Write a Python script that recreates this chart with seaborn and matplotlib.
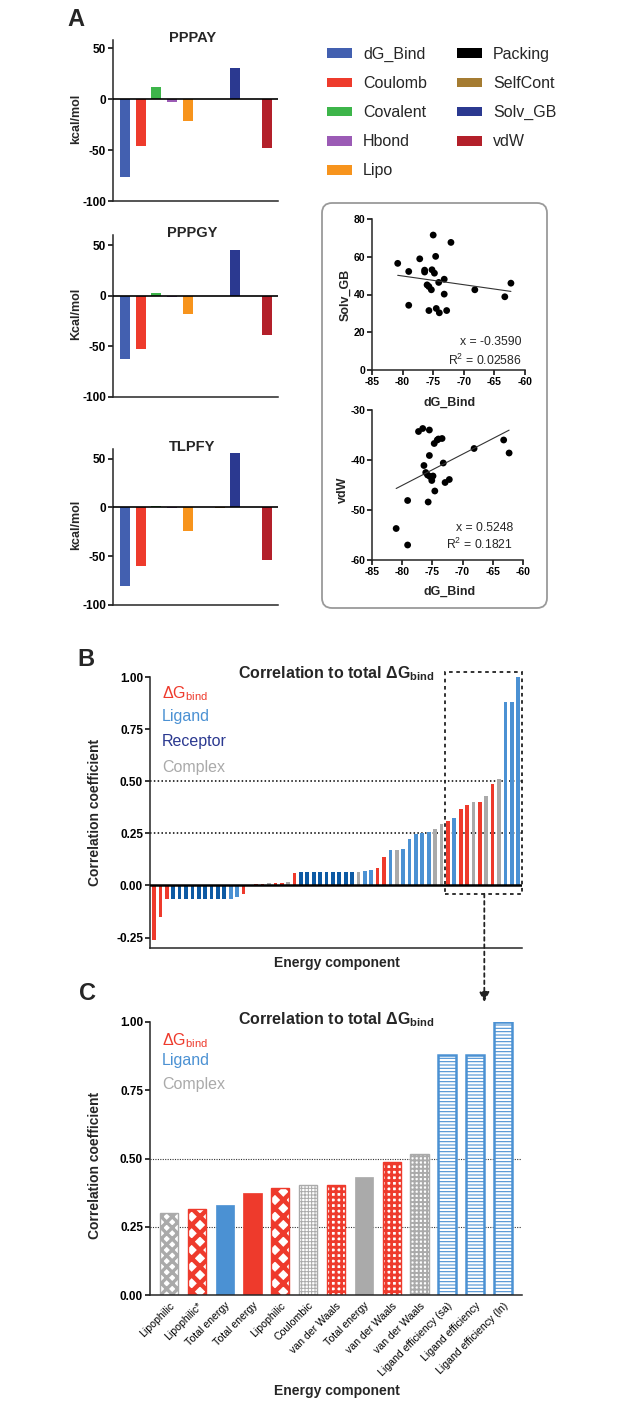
import numpy as np
import pandas as pd
import matplotlib
matplotlib.use("Agg")
import matplotlib.pyplot as plt
import seaborn as sns
from matplotlib.patches import Patch, Rectangle, FancyBboxPatch

sns.set_theme(style="ticks")
plt.rcParams['font.family'] = ['Liberation Sans', 'DejaVu Sans']
plt.rcParams['mathtext.fontset'] = 'custom'
plt.rcParams['mathtext.rm'] = 'Liberation Sans'
plt.rcParams['mathtext.bf'] = 'Liberation Sans:bold'
plt.rcParams['mathtext.it'] = 'Liberation Sans:italic'
plt.rcParams['axes.linewidth'] = 1.1
plt.rcParams['axes.unicode_minus'] = False
plt.rcParams['hatch.linewidth'] = 1.0

# ---------------- data ----------------
energy_terms = ["dG_Bind", "Coulomb", "Covalent", "Hbond", "Lipo",
                "Packing", "SelfCont", "Solv_GB", "vdW"]
term_colors = ["#4360B0", "#EE3B2C", "#3DB54A", "#9B5BB5", "#F7941D",
               "#000000", "#A57C32", "#2B3990", "#B3202A"]
slot_order = ["dG_Bind", "Coulomb", "Covalent", "Hbond", "Lipo",
              "Packing", "SelfCont", "Solv_GB", " ", "vdW"]
peptides = ["PPPAY", "PPPGY", "TLPFY"]
ylabels_a = ["kcal/mol", "Kcal/mol", "kcal/mol"]
pppay = [-76, -46, 12, -3, -21, 0, 0, 31, -48]
pppgy = [-62, -53, 3, -1.5, -18, 0, 0, 45, -39]
tlpfy = [-81, -60, 1.5, -0.5, -24, 0, -0.5, 56, -54]

dg_bind_s1 = [-80.8, -79.0, -79.0, -77.2, -76.4, -76.4, -76.0, -75.7, -75.3, -75.2,
              -75.0, -74.8, -74.6, -75.7, -74.5, -74.1, -74.0, -73.2, -73.2, -72.8,
              -72.1, -68.2, -63.3, -62.3]
solv_gb = [56.5, 52.2, 34.3, 58.9, 52.9, 51.9, 45.1, 44.2, 42.5, 53.1,
           71.5, 51.3, 60.2, 31.5, 32.6, 46.4, 30.3, 48.1, 40.2, 31.5,
           67.6, 42.5, 38.8, 46.0]
dg_bind_s2 = [-81.0, -79.1, -79.1, -77.3, -76.6, -76.4, -76.1, -75.8, -75.7, -75.5,
              -75.5, -75.4, -75.1, -74.9, -74.7, -74.6, -74.2, -74.0, -73.4, -73.2,
              -72.9, -72.2, -68.1, -63.2, -62.3]
vdw = [-53.7, -48.1, -57.0, -34.3, -33.7, -41.1, -42.5, -43.0, -48.4, -34.0,
       -39.1, -43.3, -44.1, -43.2, -36.7, -46.2, -36.0, -35.8, -35.7, -40.6,
       -44.5, -43.9, -37.7, -36.0, -38.6]

b_values = [-0.26, -0.151, -0.067, -0.067, -0.067, -0.067, -0.067, -0.067, -0.067,
            -0.067, -0.067, -0.067, -0.064, -0.056, -0.043, 0.002, 0.008, 0.008,
            0.013, 0.014, 0.014, 0.019, 0.06, 0.064, 0.064, 0.064, 0.064, 0.064,
            0.064, 0.064, 0.064, 0.064, 0.064, 0.068, 0.073, 0.084, 0.135, 0.169,
            0.169, 0.175, 0.225, 0.247, 0.252, 0.256, 0.272, 0.296, 0.309, 0.326,
            0.368, 0.387, 0.398, 0.40, 0.427, 0.486, 0.51, 0.88, 0.88, 1.00]
b_groups = (["dG"] * 3 + ["Receptor"] * 9 + ["Ligand"] * 2 + ["dG"] * 4 +
            ["Complex", "dG", "dG", "Complex", "dG"] + ["Receptor"] * 9 +
            ["Complex", "Ligand", "Ligand", "dG", "dG", "Ligand", "Complex", "Ligand",
             "Ligand", "Ligand", "Ligand", "Ligand", "Complex", "Complex", "dG", "Ligand",
             "dG", "dG", "Complex", "dG", "Complex", "dG", "Complex", "Ligand",
             "Ligand", "Ligand"])

c_labels = ["Lipophilic", "Lipophilic*", "Total energy", "Total energy", "Lipophilic",
            "Coulombic", "van der Waals", "Total energy", "van der Waals",
            "van der Waals", "Ligand efficiency (sa)", "Ligand efficiency",
            "Ligand efficiency (ln)"]
c_values = [0.30, 0.315, 0.33, 0.375, 0.392, 0.404, 0.404, 0.433, 0.489, 0.515,
            0.88, 0.88, 1.00]
c_groups = ["Complex", "dG", "Ligand", "dG", "dG", "Complex", "dG", "Complex", "dG",
            "Complex", "Ligand", "Ligand", "Ligand"]
c_hatches = ["xxx", "xx", "", "", "xx", "+++++", "+++", "", "+++", "++++",
             "-----", "-----", "-----"]
c_hatch_lw = [2.4, 3.2, 0, 0, 3.2, 0.7, 2.0, 0, 2.0, 1.4, 0.8, 0.8, 0.8]

group_colors = {"dG": "#EE3A2C", "Ligand": "#4B91D3", "Receptor": "#0D5AA4",
                "Complex": "#AAAAAA"}
legend_text_colors = {"dG": "#EE3A2C", "Ligand": "#4B91D3", "Receptor": "#2B3990",
                      "Complex": "#AAAAAA"}

# ---------------- figure ----------------
W, H = 627, 1404
fig = plt.figure(figsize=(W / 100, H / 100), dpi=100)
fig.patch.set_facecolor("white")


def add_ax(l, t, r, b):
    return fig.add_axes([l / W, 1 - b / H, (r - l) / W, (b - t) / H])


def ftext(x, y, s, **kw):
    return fig.text(x / W, 1 - y / H, s, **kw)


def style_ticks(ax, size=7):
    ax.tick_params(axis="both", length=3.5, width=1.1, labelsize=size, pad=1.5,
                   color="black", labelcolor="black")
    for lab in ax.get_xticklabels() + ax.get_yticklabels():
        lab.set_fontweight("bold")
    sns.despine(ax=ax)


# ---- Panel A bar charts ----
pal_a = dict(zip(energy_terms, term_colors))
a_boxes = [(113, 40, 278, 201, 58), (113, 235, 278, 397, 60), (113, 449, 278, 605, 60)]
a_data = [pppay, pppgy, tlpfy]
for (l, t, r, b, ytop), pep, vals, ylab in zip(a_boxes, peptides, a_data, ylabels_a):
    ax = add_ax(l, t, r, b)
    df = pd.DataFrame({"term": energy_terms, "value": vals})
    sns.barplot(data=df, x="term", y="value", hue="term", order=slot_order,
                hue_order=energy_terms, palette=pal_a, dodge=False, width=0.64,
                saturation=1, legend=False, ax=ax, linewidth=0, edgecolor="none")
    ax.axhline(0, color="black", lw=1.2, zorder=3)
    ax.set_ylim(-100, ytop)
    ax.set_xlim(-0.75, 9.7)
    ax.set_yticks([-100, -50, 0, 50])
    ax.set_xticks([])
    ax.set_xlabel("")
    ax.set_ylabel("")
    style_ticks(ax, 8.5)
    ftext((l + r) / 2 - 3, t - 2, pep, ha="center", va="center", fontsize=10.5,
          fontweight="bold")
    ftext(76, (t + b) / 2 - 2, ylab, rotation=90, ha="center", va="center",
          fontsize=9, fontweight="bold")

# legend for panel A
handles = [Patch(facecolor=c, edgecolor="none") for c in term_colors]
fig.legend(handles, energy_terms, ncol=2, loc="upper left",
           bbox_to_anchor=(327 / W, 1 - 47 / H), frameon=False, fontsize=11.5,
           handlelength=1.56, handleheight=0.56, handletextpad=0.69,
           labelspacing=0.88, columnspacing=1.9, borderpad=0, borderaxespad=0)

# rounded box around scatter plots
box = FancyBboxPatch((322 / W, 1 - 608 / H), (547 - 322) / W, (608 - 203) / H,
                     boxstyle="round,pad=0,rounding_size=0.016",
                     mutation_aspect=W / H, transform=fig.transFigure,
                     fill=False, edgecolor="#9A9A9A", lw=1.3)
fig.patches.append(box)

# scatter 1
ax1 = add_ax(372, 219, 525, 370)
sns.regplot(x=dg_bind_s1, y=solv_gb, ci=None, ax=ax1, color="black",
            scatter_kws=dict(s=24, edgecolor="none", alpha=1),
            line_kws=dict(color="#333333", lw=0.8))
ax1.set_xlim(-85, -60)
ax1.set_ylim(0, 80)
ax1.set_xticks([-85, -80, -75, -70, -65, -60])
ax1.set_yticks([0, 20, 40, 60, 80])
style_ticks(ax1, 7.5)
ftext(345, 295, "Solv_GB", rotation=90, ha="center", va="center", fontsize=9,
      fontweight="bold")
ftext(450, 403, "dG_Bind", ha="center", va="center", fontsize=9, fontweight="bold")
ftext(522, 342, "x = -0.3590", ha="right", va="center", fontsize=8.8)
ftext(522, 360, "R$^2$ = 0.02586", ha="right", va="center", fontsize=8.8)

# scatter 2
ax2 = add_ax(372, 410, 523, 560)
sns.regplot(x=dg_bind_s2, y=vdw, ci=None, ax=ax2, color="black",
            scatter_kws=dict(s=24, edgecolor="none", alpha=1),
            line_kws=dict(color="#333333", lw=0.8))
ax2.set_xlim(-85, -60)
ax2.set_ylim(-60, -30)
ax2.set_xticks([-85, -80, -75, -70, -65, -60])
ax2.set_yticks([-60, -50, -40, -30])
style_ticks(ax2, 7.5)
ftext(343, 490, "vdW", rotation=90, ha="center", va="center", fontsize=9,
      fontweight="bold")
ftext(450, 592, "dG_Bind", ha="center", va="center", fontsize=9, fontweight="bold")
ftext(513, 528, "x = 0.5248", ha="right", va="center", fontsize=8.8)
ftext(513, 544, "R$^2$ = 0.1821", ha="right", va="center", fontsize=8.8)

# ---- Panel B ----
axB = add_ax(150, 677, 522, 948)
dfb = pd.DataFrame({"pos": np.arange(len(b_values)), "value": b_values,
                    "group": b_groups})
sns.barplot(data=dfb, x="pos", y="value", hue="group", palette=group_colors,
            dodge=False, width=0.58, saturation=1, legend=False, ax=axB,
            linewidth=0, edgecolor="none")
axB.set_ylim(-0.30, 1.0)
axB.set_xlim(-0.63, len(b_values) - 0.4)
axB.set_yticks([-0.25, 0.0, 0.25, 0.5, 0.75, 1.0])
axB.set_yticklabels(["-0.25", "0.00", "0.25", "0.50", "0.75", "1.00"])
axB.set_xticks([])
axB.set_xlabel("")
axB.set_ylabel("")
axB.axhline(0, color="black", lw=1.8, zorder=3)
for yv in (0.25, 0.5):
    axB.axhline(yv, color="black", lw=1.1, ls=(0, (1, 1.5)), zorder=0.5)
style_ticks(axB, 8.5)
# dashed selection box and arrow
sel = Rectangle((45.55, -0.04), len(b_values) - 0.35 - 45.55, 1.065, fill=False,
                edgecolor="#222222", lw=1.3, ls=(0, (2, 2)), clip_on=False, zorder=4)
axB.add_patch(sel)
axB.annotate("", xy=(51.7, -0.56), xytext=(51.7, -0.04),
             arrowprops=dict(arrowstyle="-|>,head_length=0.5,head_width=0.25",
                             color="#222222", lw=1.3, ls=(0, (2, 2)),
                             shrinkA=0, shrinkB=0),
             annotation_clip=False)
ftext(336, 678, "Correlation to total ΔG$_{\\mathbf{bind}}$", ha="center",
      va="baseline", fontsize=11.5, fontweight="bold")
ftext(162, 698, "ΔG$_{\\mathrm{bind}}$", ha="left", va="baseline", fontsize=11.5,
      color=legend_text_colors["dG"])
ftext(162, 721, "Ligand", ha="left", va="baseline", fontsize=11.5,
      color=legend_text_colors["Ligand"])
ftext(162, 746, "Receptor", ha="left", va="baseline", fontsize=11.5,
      color=legend_text_colors["Receptor"])
ftext(162, 772, "Complex", ha="left", va="baseline", fontsize=11.5,
      color=legend_text_colors["Complex"])
ftext(95, 812, "Correlation coefficient", rotation=90, ha="center", va="center",
      fontsize=10, fontweight="bold")
ftext(337, 963, "Energy component", ha="center", va="center", fontsize=10,
      fontweight="bold")

# ---- Panel C ----
axC = add_ax(150, 1022, 522, 1295)
dfc = pd.DataFrame({"pos": np.arange(len(c_values)), "value": c_values,
                    "group": c_groups})
sns.barplot(data=dfc, x="pos", y="value", hue="group", palette=group_colors,
            dodge=False, width=0.65, saturation=1, legend=False, ax=axC)
bars = sorted([p for p in axC.patches if p.get_height() != 0], key=lambda p: p.get_x())
for p, grp, h, hl in zip(bars, c_groups, c_hatches, c_hatch_lw):
    col = group_colors[grp]
    if h:
        p.set_facecolor("white")
        p.set_edgecolor(col)
        p.set_hatch(h)
        p.set_linewidth(1.8 if grp == "Ligand" else 1.0)
        try:
            p.set_hatch_linewidth(hl)
        except AttributeError:
            pass
    else:
        p.set_facecolor(col)
        p.set_edgecolor(col)
        p.set_linewidth(0.5)
axC.set_ylim(0, 1.0)
axC.set_xlim(-0.68, len(c_values) - 0.32)
axC.set_yticks([0.0, 0.25, 0.5, 0.75, 1.0])
axC.set_yticklabels(["0.00", "0.25", "0.50", "0.75", "1.00"])
axC.set_xticks(np.arange(len(c_values)))
axC.set_xticklabels(c_labels)
axC.set_xlabel("")
axC.set_ylabel("")
for yv in (0.25, 0.5):
    axC.axhline(yv, color="#333333", lw=0.8, ls=(0, (1, 1.2)), zorder=0.5)
style_ticks(axC, 8.5)
axC.tick_params(axis="x", length=0, pad=4)
for lab in axC.get_xticklabels():
    lab.set_rotation(45)
    lab.set_ha("right")
    lab.set_va("top")
    lab.set_rotation_mode("anchor")
    lab.set_fontweight("normal")
    lab.set_fontsize(7.6)
ftext(336, 1024, "Correlation to total ΔG$_{\\mathbf{bind}}$", ha="center",
      va="baseline", fontsize=11.5, fontweight="bold")
ftext(162, 1045, "ΔG$_{\\mathrm{bind}}$", ha="left", va="baseline", fontsize=11.5,
      color=legend_text_colors["dG"])
ftext(162, 1065, "Ligand", ha="left", va="baseline", fontsize=11.5,
      color=legend_text_colors["Ligand"])
ftext(162, 1089, "Complex", ha="left", va="baseline", fontsize=11.5,
      color=legend_text_colors["Complex"])
ftext(95, 1165, "Correlation coefficient", rotation=90, ha="center", va="center",
      fontsize=10, fontweight="bold")
ftext(337, 1391, "Energy component", ha="center", va="center", fontsize=10,
      fontweight="bold")

# panel letters
ftext(76, 20, "A", ha="center", va="center", fontsize=17, fontweight="bold")
ftext(86, 660, "B", ha="center", va="center", fontsize=17, fontweight="bold")
ftext(88, 993, "C", ha="center", va="center", fontsize=17, fontweight="bold")

fig.savefig("out.png", dpi=100, facecolor="white")
